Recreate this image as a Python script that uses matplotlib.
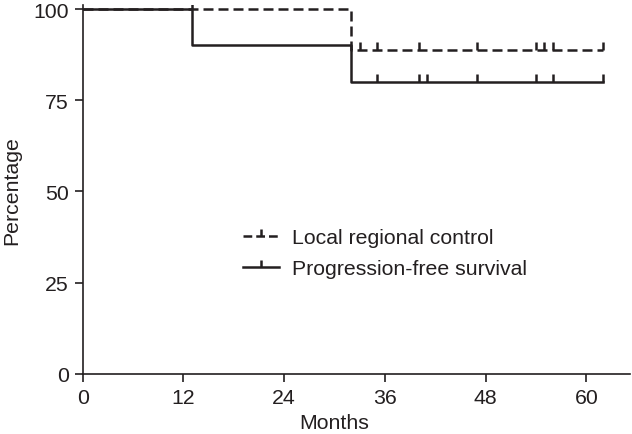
import numpy as np
import matplotlib
matplotlib.use("Agg")
import matplotlib.pyplot as plt

plt.rcParams['font.family'] = ['Liberation Sans', 'DejaVu Sans']

# Kaplan-Meier step data (months, percentage)
lrc_times = [0, 32, 62]
lrc_surv = [100, 88.9, 88.9]
lrc_censor = [13, 33, 35, 40, 47, 54, 55, 56, 62]

pfs_times = [0, 13, 32, 62]
pfs_surv = [100, 90, 80, 80]
pfs_censor = [35, 40, 41, 47, 54, 56, 62]

series_labels = ["Local regional control", "Progression-free survival"]
xticks = [0, 12, 24, 36, 48, 60]
yticks = [0, 25, 50, 75, 100]

def step_value(times, surv, t):
    idx = np.searchsorted(np.asarray(times), t, side='right') - 1
    return np.asarray(surv)[idx]

color = '#231f20'
fs = 15.3
fig = plt.figure(figsize=(6.32, 4.35), dpi=100)
ax = fig.add_axes([0.1309, 0.138, 0.866, 0.8474])

lw = 1.8
ms = 6
ax.step(lrc_times, lrc_surv, where='post', color=color, lw=lw,
        linestyle=(0, (4, 2)))
ax.plot(lrc_censor, step_value(lrc_times, lrc_surv, lrc_censor),
        linestyle='none', marker=2, markersize=ms, markeredgewidth=lw, color=color)
ax.step(pfs_times, pfs_surv, where='post', color=color, lw=lw)
ax.plot(pfs_censor, step_value(pfs_times, pfs_surv, pfs_censor),
        linestyle='none', marker=2, markersize=ms, markeredgewidth=lw, color=color)

# legend proxies
h1, = ax.plot([], [], color=color, lw=lw, linestyle=(0, (3.5, 1.6)),
              marker=2, markersize=5, markeredgewidth=lw)
h2, = ax.plot([], [], color=color, lw=lw, marker=2, markersize=5,
              markeredgewidth=lw)
ax.legend([h1, h2], series_labels, loc='upper left',
          bbox_to_anchor=(0.293, 0.395), frameon=False, fontsize=fs,
          handlelength=1.7, handletextpad=0.6, labelspacing=0.55,
          borderpad=0, borderaxespad=0, numpoints=1, labelcolor=color)

ax.set_xlim(0, 65.2)
ax.set_ylim(0, 101)
ax.set_xticks(xticks)
ax.set_yticks(yticks)
for s in ['top', 'right']:
    ax.spines[s].set_visible(False)
for s in ['left', 'bottom']:
    ax.spines[s].set_color(color)
    ax.spines[s].set_linewidth(1.2)
ax.tick_params(direction='out', length=6, width=1.2, color=color,
               labelsize=fs, labelcolor=color, pad=4)
ax.set_xlabel('Months', fontsize=fs, color=color)
ax.xaxis.set_label_coords(30 / 65.2, -0.107)
ax.set_ylabel('Percentage', fontsize=fs, color=color, labelpad=9)

fig.savefig('out.png', dpi=100)
